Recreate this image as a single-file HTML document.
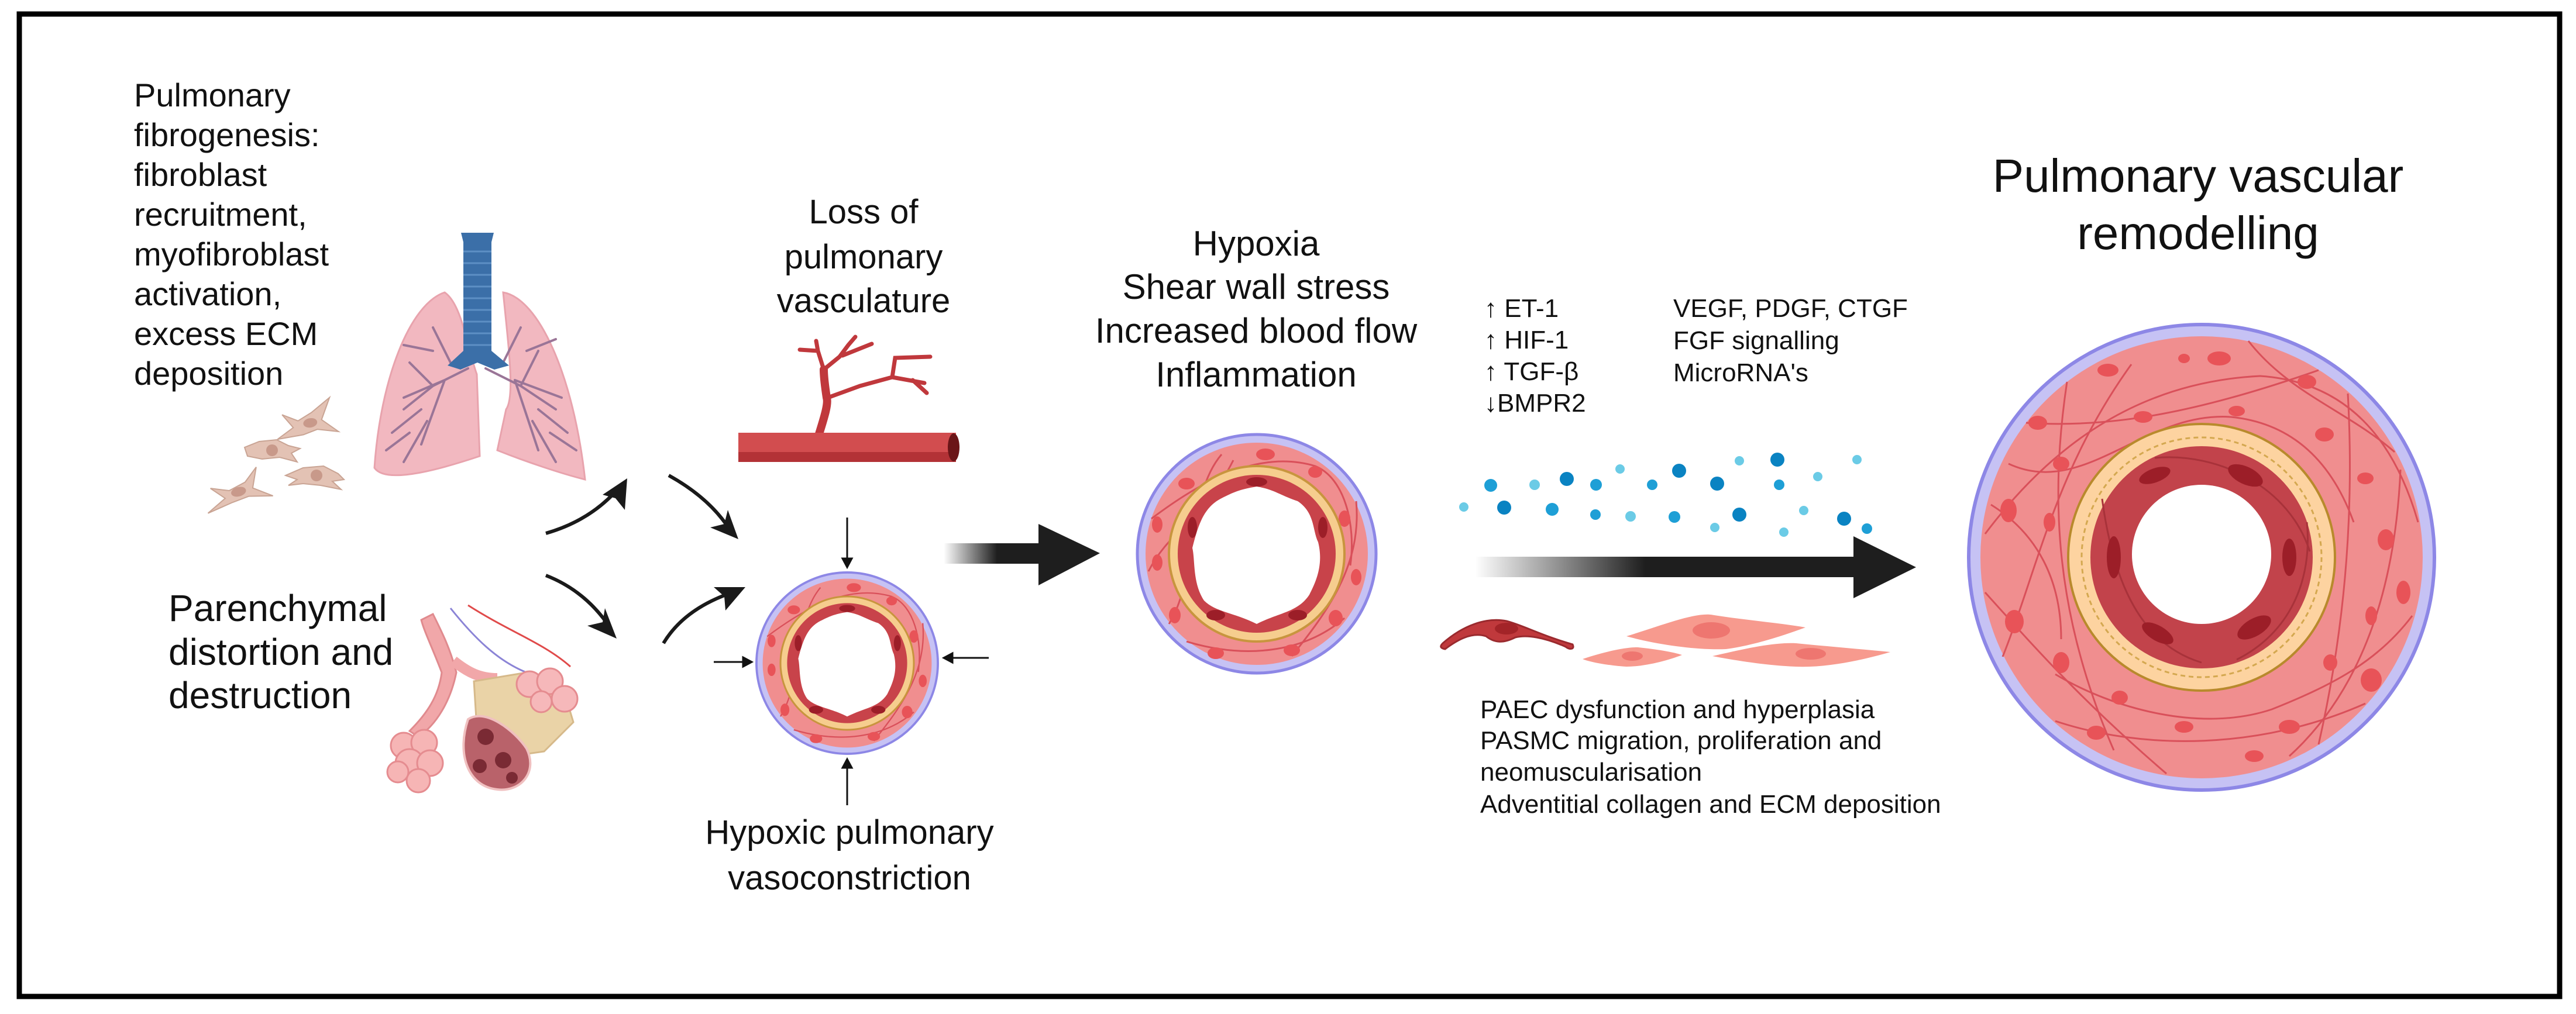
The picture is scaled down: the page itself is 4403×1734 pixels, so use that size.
<!DOCTYPE html>
<html><head><meta charset="utf-8"><style>
html,body{margin:0;padding:0;background:#fff}
svg{display:block}
text{font-family:"Liberation Sans",sans-serif;fill:#111}
</style></head><body>
<svg width="4403" height="1734" viewBox="0 0 4403 1734" xmlns="http://www.w3.org/2000/svg">
<defs>
<linearGradient id="g1" x1="0" x2="1" y1="0" y2="0">
<stop offset="0" stop-color="#1e1e1e" stop-opacity="0"/>
<stop offset="0.55" stop-color="#1e1e1e" stop-opacity="1"/>
<stop offset="1" stop-color="#1e1e1e"/>
</linearGradient>
<linearGradient id="g2" x1="2521" x2="3168" y1="0" y2="0" gradientUnits="userSpaceOnUse">
<stop offset="0" stop-color="#1e1e1e" stop-opacity="0"/>
<stop offset="0.45" stop-color="#1e1e1e" stop-opacity="1"/>
<stop offset="1" stop-color="#1e1e1e"/>
</linearGradient>
</defs>
<rect x="0" y="0" width="4403" height="1734" fill="#fff"/>
<rect x="33" y="24" width="4342" height="1680" fill="none" stroke="#000" stroke-width="9"/>

<!-- Left text -->
<g font-size="56">
<text x="229" y="182">Pulmonary</text>
<text x="229" y="250">fibrogenesis:</text>
<text x="229" y="318">fibroblast</text>
<text x="229" y="386">recruitment,</text>
<text x="229" y="454">myofibroblast</text>
<text x="229" y="522">activation,</text>
<text x="229" y="590">excess ECM</text>
<text x="229" y="658">deposition</text>
</g>
<g font-size="64">
<text x="288" y="1062">Parenchymal</text>
<text x="288" y="1137">distortion and</text>
<text x="288" y="1211">destruction</text>
</g>

<!-- Lungs -->
<g>
<path d="M760 500 C700 520 650 650 640 800 C660 830 760 800 820 780 L815 640 C800 600 790 520 760 500Z" fill="#f2b8c0" stroke="#e8a3ad" stroke-width="3"/>
<path d="M860 500 C920 510 980 640 1000 820 C960 810 900 790 850 770 L865 700 C880 680 870 600 860 500Z" fill="#f2b8c0" stroke="#e8a3ad" stroke-width="3"/>
<g stroke="#9a7597" stroke-width="4" fill="none" stroke-linecap="round">
<path d="M800 630 L740 660 L690 700 M740 660 L700 620 M760 650 L720 760 M720 700 L670 740 M770 620 L740 560 M740 600 L690 590 M760 650 L690 680 M730 720 L690 790 M700 740 L660 770"/>
<path d="M830 630 L890 660 L950 700 M890 660 L920 600 M880 650 L920 770 M920 700 L970 740 M860 620 L890 560 M900 600 L950 580 M880 650 L960 680 M910 720 L950 790 M940 740 L985 770"/>
</g>
<rect x="792" y="410" width="48" height="200" fill="#3b6fa8"/>
<g stroke="#5d8fc4" stroke-width="3">
<line x1="792" y1="430" x2="840" y2="430"/><line x1="792" y1="450" x2="840" y2="450"/><line x1="792" y1="470" x2="840" y2="470"/><line x1="792" y1="490" x2="840" y2="490"/><line x1="792" y1="510" x2="840" y2="510"/><line x1="792" y1="530" x2="840" y2="530"/><line x1="792" y1="550" x2="840" y2="550"/><line x1="792" y1="570" x2="840" y2="570"/><line x1="792" y1="590" x2="840" y2="590"/>
</g>
<path d="M788 398 L844 398 L840 414 L792 414Z" fill="#3b6fa8"/>
<path d="M792 600 L840 600 L870 625 L845 632 L816 620 L787 632 L765 625Z" fill="#3b6fa8"/>
</g>

<!-- Fibroblasts -->
<g fill="#e3c2b4" stroke="#c9a494" stroke-width="2">
<g transform="translate(525,722) rotate(-10)"><path d="M-55 20 L-25 5 L-40 -20 L-15 -5 L10 -15 L45 -35 L25 0 L50 25 L15 15 L-10 20Z"/><ellipse cx="5" cy="2" rx="12" ry="8" fill="#c8998a" stroke="none"/></g>
<g transform="translate(463,770)"><path d="M-45 -5 L-20 -15 L10 -18 L30 -8 L50 -3 L35 5 L45 20 L15 12 L-15 15 L-40 10Z"/><ellipse cx="2" cy="0" rx="10" ry="10" fill="#c8998a" stroke="none"/></g>
<g transform="translate(407,838) rotate(-15)"><path d="M-60 25 L-25 8 L-45 -15 L-15 -3 L15 -10 L40 -30 L25 3 L55 25 L15 15 L-15 18Z"/><ellipse cx="0" cy="3" rx="13" ry="8" fill="#c8998a" stroke="none"/></g>
<g transform="translate(538,815)"><path d="M-50 -2 L-20 -15 L15 -18 L40 -5 L50 5 L30 8 L45 22 L10 15 L-20 12 L-45 15 L-30 5Z"/><ellipse cx="3" cy="-2" rx="10" ry="10" fill="#c8998a" stroke="none"/></g>
</g>

<!-- Alveoli -->
<g>
<path d="M740 1050 C755 1080 770 1110 780 1150 C770 1200 745 1240 715 1260 L700 1250 C730 1220 750 1190 755 1150 C740 1110 725 1080 720 1060 Z" fill="#f1a7a9" stroke="#e08a8e" stroke-width="3"/>
<path d="M775 1130 C800 1150 820 1160 850 1160" fill="none" stroke="#f1a7a9" stroke-width="18"/>
<path d="M770 1040 C810 1090 850 1130 900 1150" fill="none" stroke="#8b84d6" stroke-width="3"/>
<path d="M800 1035 C870 1080 930 1100 975 1140" fill="none" stroke="#e04a4a" stroke-width="3"/>
<g fill="#f6b5b5" stroke="#e58c90" stroke-width="3">
<circle cx="690" cy="1275" r="22"/><circle cx="725" cy="1270" r="22"/><circle cx="700" cy="1305" r="24"/><circle cx="735" cy="1305" r="22"/><circle cx="715" cy="1335" r="20"/><circle cx="680" cy="1320" r="18"/>
</g>
<path d="M810 1165 L900 1150 L965 1185 L980 1235 L930 1285 L860 1295 L815 1245Z" fill="#ead3a7" stroke="#d6b98a" stroke-width="3"/>
<g fill="#f6b8ba" stroke="#e58c90" stroke-width="3">
<circle cx="905" cy="1170" r="22"/><circle cx="940" cy="1165" r="22"/><circle cx="965" cy="1195" r="22"/><circle cx="925" cy="1200" r="18"/>
</g>
<path d="M800 1230 C830 1210 880 1250 900 1280 C920 1320 890 1355 850 1350 C800 1345 780 1290 800 1230Z" fill="#b9626a" stroke="#f0c0c0" stroke-width="4"/>
<circle cx="830" cy="1260" r="14" fill="#7a2a34"/><circle cx="860" cy="1300" r="14" fill="#7a2a34"/><circle cx="820" cy="1310" r="12" fill="#7a2a34"/><circle cx="875" cy="1330" r="10" fill="#7a2a34"/>
</g>

<!-- Curved arrows -->
<g fill="none" stroke="#1a1a1a" stroke-width="6">
<path d="M933 912 Q1010 890 1058 834"/>
<path d="M1143 813 Q1210 850 1245 902"/>
<path d="M933 984 Q1000 1010 1042 1072"/>
<path d="M1134 1100 Q1170 1040 1255 1012"/>
</g>
<g fill="#1a1a1a">
<path d="M1072 818 L1068 872 L1052 852 L1030 846Z"/>
<path d="M1262 922 L1214 902 L1238 896 L1244 872Z"/>
<path d="M1054 1092 L1004 1070 L1030 1064 L1034 1040Z"/>
<path d="M1274 1004 L1240 1044 L1238 1020 L1220 1004Z"/>
</g>

<!-- Loss of pulmonary vasculature -->
<g font-size="58" text-anchor="middle">
<text x="1476" y="382">Loss of</text>
<text x="1476" y="459">pulmonary</text>
<text x="1476" y="534">vasculature</text>
</g>
<g fill="none" stroke="#c0383c" stroke-linecap="round">
<path d="M1400 742 C1410 710 1416 690 1413 680 C1410 660 1408 645 1408 632" stroke-width="14"/>
<path d="M1408 632 L1398 600 L1395 583 M1398 600 L1367 598 M1408 632 L1435 610 L1450 590 L1462 576 M1440 608 L1490 588 M1415 680 L1470 660 L1525 645 L1580 655 M1525 645 L1530 612 L1590 610 M1560 650 L1584 672" stroke-width="7"/>
</g>
<rect x="1262" y="740" width="372" height="50" fill="#d24d4f"/>
<rect x="1262" y="773" width="372" height="17" fill="#b33236"/>
<ellipse cx="1630" cy="765" rx="10" ry="24" fill="#6b1518"/>

<!-- Small vessel -->
<g transform="translate(1448,1134) scale(0.76)">
<circle r="204" fill="#c6c2f4" stroke="#8d87e6" stroke-width="5"/>
<circle r="190" fill="#f08e8f"/>
<g fill="none" stroke="#d9505a" stroke-width="3">
<path d="M-180 -60 C-100 -120 0 -180 100 -150 C150 -130 170 -50 160 20"/>
<path d="M-150 120 C-100 40 -120 -100 -60 -170"/>
<path d="M60 175 C120 100 180 20 170 -90"/>
<path d="M-120 150 C-20 180 80 170 150 110"/>
</g>
<g fill="#e85358">
<ellipse cx="-120" cy="-120" rx="14" ry="10"/><ellipse cx="15" cy="-170" rx="16" ry="10"/><ellipse cx="100" cy="-140" rx="12" ry="10"/><ellipse cx="150" cy="-60" rx="10" ry="14"/><ellipse cx="170" cy="40" rx="9" ry="14"/><ellipse cx="135" cy="110" rx="12" ry="14"/><ellipse cx="60" cy="165" rx="14" ry="10"/><ellipse cx="-70" cy="170" rx="14" ry="10"/><ellipse cx="-140" cy="105" rx="10" ry="14"/><ellipse cx="-170" cy="15" rx="9" ry="14"/><ellipse cx="-170" cy="-50" rx="9" ry="14"/>
</g>
<circle r="150" fill="#f6cd8e" stroke="#c8953e" stroke-width="4"/>
<circle r="135" fill="#c8434a"/>
<path d="M0 -115 C30 -110 40 -100 70 -90 C100 -70 95 -40 105 -20 C115 20 100 50 90 70 C70 100 40 100 0 120 C-40 100 -70 100 -90 80 C-110 50 -105 10 -110 -10 C-100 -50 -90 -80 -60 -95 C-40 -105 -30 -110 0 -115Z" fill="#fff"/>
<g fill="#9c1e28"><ellipse cx="0" cy="-123" rx="18" ry="8"/><ellipse cx="113" cy="-45" rx="8" ry="18"/><ellipse cx="-110" cy="-45" rx="8" ry="18"/><ellipse cx="-70" cy="105" rx="16" ry="9"/><ellipse cx="70" cy="105" rx="16" ry="9"/></g>
</g>
<g stroke="#111" stroke-width="3" fill="#111">
<line x1="1448" y1="885" x2="1448" y2="955"/><path d="M1440 955 L1456 955 L1448 970Z"/>
<line x1="1448" y1="1377" x2="1448" y2="1313"/><path d="M1440 1313 L1456 1313 L1448 1298Z"/>
<line x1="1220" y1="1132" x2="1270" y2="1132"/><path d="M1270 1124 L1270 1140 L1285 1132Z"/>
<line x1="1690" y1="1125" x2="1628" y2="1125"/><path d="M1628 1117 L1628 1133 L1613 1125Z"/>
</g>
<g font-size="58" text-anchor="middle">
<text x="1452" y="1443">Hypoxic pulmonary</text>
<text x="1452" y="1521">vasoconstriction</text>
</g>

<!-- Big arrow 1 -->
<rect x="1613" y="929" width="166" height="35" fill="url(#g1)"/>
<path d="M1775 896 L1880 946 L1775 1001Z" fill="#1e1e1e"/>

<!-- Middle vessel -->
<g transform="translate(2148,947)">
<circle r="204" fill="#c6c2f4" stroke="#8d87e6" stroke-width="5"/>
<circle r="190" fill="#f08e8f"/>
<g fill="none" stroke="#d9505a" stroke-width="3">
<path d="M-180 -60 C-100 -120 0 -180 100 -150 C150 -130 170 -50 160 20"/>
<path d="M-150 120 C-100 40 -120 -100 -60 -170"/>
<path d="M60 175 C120 100 180 20 170 -90"/>
<path d="M-120 150 C-20 180 80 170 150 110"/>
<path d="M-185 30 C-150 -40 -90 -60 -40 -160"/>
</g>
<g fill="#e85358">
<ellipse cx="-120" cy="-120" rx="14" ry="10"/><ellipse cx="15" cy="-170" rx="16" ry="10"/><ellipse cx="100" cy="-140" rx="12" ry="10"/><ellipse cx="150" cy="-60" rx="10" ry="14"/><ellipse cx="170" cy="40" rx="9" ry="14"/><ellipse cx="135" cy="110" rx="12" ry="14"/><ellipse cx="60" cy="165" rx="14" ry="10"/><ellipse cx="-70" cy="170" rx="14" ry="10"/><ellipse cx="-140" cy="105" rx="10" ry="14"/><ellipse cx="-170" cy="15" rx="9" ry="14"/><ellipse cx="-170" cy="-50" rx="9" ry="14"/>
</g>
<circle r="150" fill="#f6cd8e" stroke="#c8953e" stroke-width="4"/>
<circle r="135" fill="#c8434a"/>
<path d="M0 -115 C30 -110 40 -100 70 -90 C100 -70 95 -40 105 -20 C115 20 100 50 90 70 C70 100 40 100 0 120 C-40 100 -70 100 -90 80 C-110 50 -105 10 -110 -10 C-100 -50 -90 -80 -60 -95 C-40 -105 -30 -110 0 -115Z" fill="#fff"/>
<g fill="#9c1e28"><ellipse cx="0" cy="-123" rx="18" ry="8"/><ellipse cx="113" cy="-45" rx="8" ry="18"/><ellipse cx="-110" cy="-45" rx="8" ry="18"/><ellipse cx="-70" cy="105" rx="16" ry="9"/><ellipse cx="70" cy="105" rx="16" ry="9"/></g>
</g>
<g font-size="60" text-anchor="middle">
<text x="2147" y="437">Hypoxia</text>
<text x="2147" y="511">Shear wall stress</text>
<text x="2147" y="586">Increased blood flow</text>
<text x="2147" y="661">Inflammation</text>
</g>

<!-- Mediators -->
<g font-size="44">
<text x="2537" y="542">↑ ET-1</text>
<text x="2537" y="596">↑ HIF-1</text>
<text x="2537" y="650">↑ TGF-β</text>
<text x="2537" y="704">↓BMPR2</text>
<text x="2860" y="542">VEGF, PDGF, CTGF</text>
<text x="2860" y="597">FGF signalling</text>
<text x="2860" y="652">MicroRNA's</text>
</g>
<g>
<circle cx="2548" cy="830" r="11" fill="#1e9fd6"/><circle cx="2623" cy="829" r="9" fill="#6bcbe6"/><circle cx="2678" cy="819" r="12" fill="#0a83c2"/><circle cx="2728" cy="829" r="10" fill="#1e9fd6"/><circle cx="2769" cy="802" r="8" fill="#6bcbe6"/><circle cx="2824" cy="829" r="9" fill="#1e9fd6"/><circle cx="2870" cy="805" r="12" fill="#0a83c2"/><circle cx="2935" cy="827" r="12" fill="#0a83c2"/><circle cx="2973" cy="788" r="8" fill="#6bcbe6"/><circle cx="3038" cy="786" r="12" fill="#0a83c2"/><circle cx="3041" cy="829" r="9" fill="#1e9fd6"/><circle cx="3107" cy="815" r="8" fill="#6bcbe6"/><circle cx="3174" cy="786" r="8" fill="#6bcbe6"/><circle cx="2502" cy="867" r="8" fill="#6bcbe6"/><circle cx="2571" cy="868" r="12" fill="#0a83c2"/><circle cx="2653" cy="871" r="11" fill="#1e9fd6"/><circle cx="2727" cy="880" r="9" fill="#1e9fd6"/><circle cx="2787" cy="883" r="9" fill="#6bcbe6"/><circle cx="2862" cy="884" r="10" fill="#1e9fd6"/><circle cx="2931" cy="902" r="8" fill="#6bcbe6"/><circle cx="2973" cy="880" r="12" fill="#0a83c2"/><circle cx="3083" cy="873" r="8" fill="#6bcbe6"/><circle cx="3049" cy="910" r="8" fill="#6bcbe6"/><circle cx="3152" cy="887" r="12" fill="#0a83c2"/><circle cx="3191" cy="904" r="9" fill="#1e9fd6"/>
</g>
<rect x="2521" y="952" width="651" height="35" fill="url(#g2)"/>
<path d="M3168 917 L3275 970 L3168 1023Z" fill="#1e1e1e"/>
<path d="M2466 1100 C2500 1070 2540 1055 2575 1062 C2605 1070 2630 1085 2688 1102 C2692 1110 2684 1112 2676 1106 C2640 1090 2610 1085 2590 1090 C2570 1100 2555 1100 2540 1088 C2515 1080 2490 1095 2470 1110 C2460 1108 2462 1104 2466 1100Z" fill="#c0393c" stroke="#9a2a2e" stroke-width="3"/>
<ellipse cx="2575" cy="1075" rx="20" ry="10" fill="#a32428"/>
<path d="M2780 1088 C2840 1070 2900 1045 2930 1052 C2980 1060 3040 1065 3086 1073 C3040 1090 2990 1105 2950 1110 C2900 1112 2830 1102 2780 1088Z" fill="#f79a8e"/>
<ellipse cx="2925" cy="1078" rx="32" ry="14" fill="#ee7670"/>
<path d="M2705 1127 C2740 1115 2780 1106 2800 1107 C2830 1110 2860 1115 2875 1120 C2850 1130 2810 1140 2780 1140 C2750 1138 2720 1133 2705 1127Z" fill="#f79a8e"/>
<ellipse cx="2790" cy="1122" rx="18" ry="8" fill="#ee7670"/>
<path d="M2927 1122 C2980 1110 3030 1098 3070 1100 C3120 1105 3180 1110 3231 1115 C3180 1130 3120 1142 3070 1140 C3020 1138 2970 1130 2927 1122Z" fill="#f79a8e"/>
<ellipse cx="3095" cy="1118" rx="26" ry="10" fill="#ee7670"/>
<g font-size="44">
<text x="2530" y="1228">PAEC dysfunction and hyperplasia</text>
<text x="2530" y="1281">PASMC migration, proliferation and</text>
<text x="2530" y="1335">neomuscularisation</text>
<text x="2530" y="1390">Adventitial collagen and ECM deposition</text>
</g>

<g font-size="80" text-anchor="middle">
<text x="3757" y="328">Pulmonary vascular</text>
<text x="3757" y="426">remodelling</text>
</g>

<!-- Big vessel -->
<g transform="translate(3763,953)">
<circle r="398" fill="#c6c2f4" stroke="#8d87e6" stroke-width="6"/>
<circle r="378" fill="#f08e8f"/>
<g fill="none" stroke="#d9505a" stroke-width="3">
<path d="M-370 -40 C-250 -200 -100 -300 100 -310 C250 -300 330 -200 370 -60"/>
<path d="M-340 170 C-280 20 -250 -150 -120 -330"/>
<path d="M-300 -230 C-150 -220 0 -250 200 -320"/>
<path d="M150 340 C260 240 330 80 340 -150"/>
<path d="M-250 280 C-100 330 100 330 280 250"/>
<path d="M-370 60 C-280 160 -200 250 -60 370"/>
<path d="M-230 -300 C-260 -100 -250 100 -150 330"/>
<path d="M250 -280 C260 -100 250 100 200 320"/>
<path d="M-330 -160 C-200 -100 -100 -250 50 -240 C150 -230 220 -170 260 -60"/>
<path d="M-250 200 C-150 260 0 300 120 260 C220 220 300 180 360 100"/>
<path d="M-360 -90 C-280 -40 -240 40 -240 140"/>
<path d="M80 -370 C150 -280 250 -250 330 -180"/>
</g>
<g fill="#e85358">
<ellipse cx="-160" cy="-320" rx="18" ry="11"/><ellipse cx="30" cy="-340" rx="20" ry="12"/><ellipse cx="180" cy="-300" rx="16" ry="12"/><ellipse cx="-280" cy="-230" rx="16" ry="12"/><ellipse cx="-100" cy="-240" rx="16" ry="10"/><ellipse cx="60" cy="-250" rx="14" ry="9"/><ellipse cx="210" cy="-210" rx="16" ry="12"/><ellipse cx="280" cy="-135" rx="14" ry="10"/><ellipse cx="315" cy="-30" rx="14" ry="18"/><ellipse cx="345" cy="60" rx="12" ry="20"/><ellipse cx="290" cy="100" rx="10" ry="16"/><ellipse cx="290" cy="210" rx="18" ry="20"/><ellipse cx="220" cy="180" rx="12" ry="14"/><ellipse cx="150" cy="290" rx="18" ry="12"/><ellipse cx="-30" cy="290" rx="16" ry="10"/><ellipse cx="-140" cy="240" rx="14" ry="12"/><ellipse cx="-240" cy="180" rx="14" ry="18"/><ellipse cx="-320" cy="110" rx="16" ry="20"/><ellipse cx="-330" cy="-80" rx="14" ry="20"/><ellipse cx="-260" cy="-60" rx="10" ry="16"/><ellipse cx="-240" cy="-160" rx="14" ry="12"/><ellipse cx="-180" cy="300" rx="16" ry="12"/><ellipse cx="90" cy="340" rx="16" ry="10"/><ellipse cx="-30" cy="-340" rx="10" ry="8"/>
</g>
<circle r="228" fill="#fdd3a0" stroke="#b88a2c" stroke-width="4"/>
<circle r="205" fill="none" stroke="#d4a850" stroke-width="3" stroke-dasharray="8 6"/>
<circle r="190" fill="#c2434b"/>
<g fill="none" stroke="#a8323a" stroke-width="3">
<path d="M-80 -170 C30 -180 150 -120 185 -10"/>
<path d="M-170 -100 C-150 50 -100 150 0 180"/>
<path d="M60 175 C150 130 190 40 180 -60"/>
</g>
<g fill="#9c1e28">
<ellipse cx="-80" cy="-140" rx="28" ry="12" transform="rotate(-20 -80 -140)"/>
<ellipse cx="75" cy="-140" rx="32" ry="15" transform="rotate(25 75 -140)"/>
<ellipse cx="-150" cy="0" rx="12" ry="36"/>
<ellipse cx="150" cy="0" rx="12" ry="32"/>
<ellipse cx="-75" cy="130" rx="30" ry="13" transform="rotate(30 -75 130)"/>
<ellipse cx="90" cy="120" rx="32" ry="15" transform="rotate(-30 90 120)"/>
</g>
<circle cx="0" cy="-5" r="119" fill="#fff"/>
</g>
</svg>
</body></html>
